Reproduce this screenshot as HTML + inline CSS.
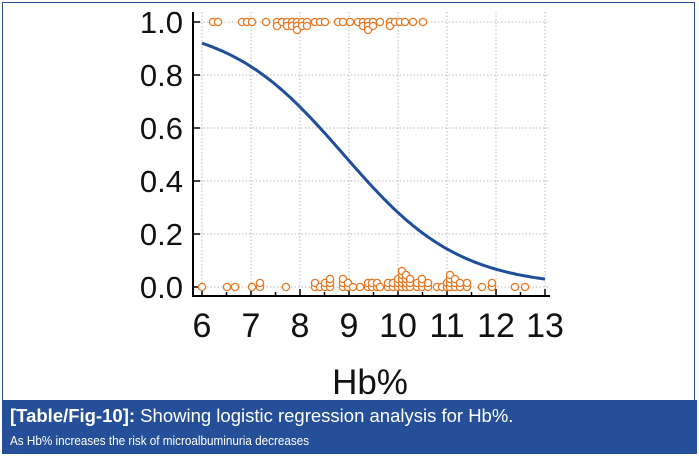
<!DOCTYPE html>
<html><head><meta charset="utf-8"><style>
body{margin:0;background:#fff;}
#w{position:relative;width:699px;height:460px;overflow:hidden;font-family:"Liberation Sans",sans-serif;}
#frame{position:absolute;left:2px;top:2px;width:693px;height:451px;border:1.5px solid #2b4f91;box-sizing:border-box;}
#cap{position:absolute;left:2px;top:400px;width:695px;height:54px;background:#264f99;color:#fff;}
#cap .a{position:absolute;left:8px;top:5px;font-size:18.5px;white-space:nowrap;}
#cap .b{position:absolute;left:8px;top:33px;font-size:13px;white-space:nowrap;transform:scaleX(0.9);transform-origin:0 0;}
</style></head><body><div id="w">
<div id="frame"></div>
<svg id="s" width="699" height="460" style="position:absolute;left:0;top:0">
<g id="grid" stroke="#bbb" stroke-dasharray="1.5,2" stroke-width="1"></g>
<g stroke="#000" stroke-width="2" fill="none">
<line x1="193" y1="12" x2="193" y2="297"/>
<line x1="192" y1="296" x2="550" y2="296"/>
</g>
<g id="ticks" stroke="#000" stroke-width="1.5"></g>
<path id="curve" fill="none" stroke="#1f4e9c" stroke-width="3"/>
<g id="pts" fill="#fff" stroke="#e87722" stroke-width="1.3"></g>
<g font-size="31" text-anchor="end" fill="#111">
<text x="183" y="33">1.0</text><text x="183" y="86">0.8</text><text x="183" y="139">0.6</text>
<text x="183" y="192">0.4</text><text x="183" y="245">0.2</text><text x="183" y="298">0.0</text>
</g>
<g id="xl" font-size="34" text-anchor="middle" fill="#111"></g>
<text x="370" y="394" font-size="35" text-anchor="middle" fill="#111">Hb%</text>
</svg>
<div id="cap"><div class="a"><b>[Table/Fig-10]:</b> Showing logistic regression analysis for Hb%.</div>
<div class="b">As Hb% increases the risk of microalbuminuria decreases</div></div>
</div>
<script>
var ns="http://www.w3.org/2000/svg";
function el(p,t,a){var e=document.createElementNS(ns,t);for(var k in a)e.setAttribute(k,a[k]);document.getElementById(p).appendChild(e);return e;}
function X(v){return 202+(v-6)*49;}function Y(p){return 287-p*265;}
for(var i=6;i<=13;i++){el('grid','line',{x1:X(i),y1:12,x2:X(i),y2:296});
el('ticks','line',{x1:X(i),y1:296,x2:X(i),y2:289});
if(i<13)el('ticks','line',{x1:X(i+0.5),y1:296,x2:X(i+0.5),y2:292});
var t=el('xl','text',{x:X(i),y:337});t.textContent=i;}
for(var j=0;j<=5;j++){el('grid','line',{x1:193,y1:Y(j*0.2),x2:550,y2:Y(j*0.2)});
el('ticks','line',{x1:193,y1:Y(j*0.2),x2:200,y2:Y(j*0.2)});}
var d="";for(var x=6;x<=13.001;x+=0.05){var p=1/(1+Math.exp(-(7.52-0.846*x)));d+=(x==6?"M":"L")+X(x).toFixed(1)+","+Y(p).toFixed(1);}
document.getElementById('curve').setAttribute('d',d);
var topPts=[[213,1],[218,1],[242,1],[247,1],[252,1],[266,1],[277,2],[282,1],[287,2],[292,2],[297,3],[302,2],[307,2],[315,1],[320,1],[325,1],[338,1],[343,1],[350,1],[358,1],[363,2],[368,3],[373,2],[380,1],[390,2],[395,1],[400,1],[405,1],[413,1],[423,1]];
topPts.forEach(function(a){for(var k=0;k<a[1];k++)el('pts','circle',{cx:a[0],cy:Y(1)+k*4,r:3.6});});
var botPts=[[202,1],[227,1],[235,1],[252,1],[260,2],[286,1],[315,2],[320,1],[325,2],[330,3],[343,3],[348,2],[353,1],[360,1],[368,2],[372,2],[377,2],[380,1],[388,2],[393,2],[398,3],[402,5],[406,4],[410,3],[417,2],[422,3],[428,2],[437,1],[442,1],[447,2],[450,4],[455,3],[460,2],[467,2],[482,1],[492,2],[515,1],[525,1]];
botPts.forEach(function(a){for(var k=0;k<a[1];k++)el('pts','circle',{cx:a[0],cy:Y(0)-k*4,r:3.6});});
</script>
</body></html>
